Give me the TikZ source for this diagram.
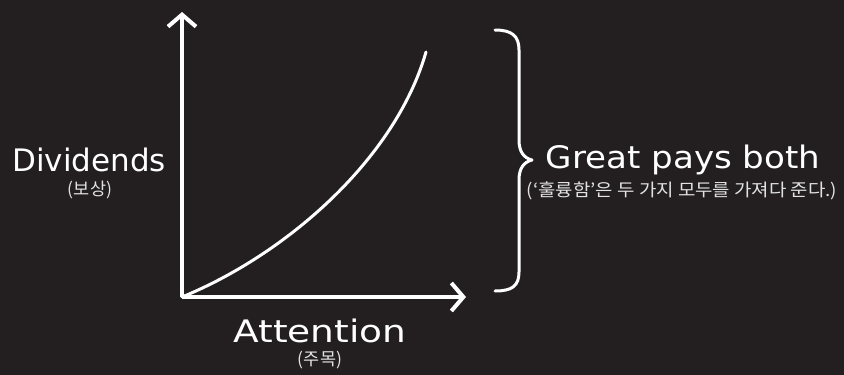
\documentclass[tikz,border=0pt]{standalone}
\usepackage{fontspec}
\setmainfont{DejaVu Sans}
\newfontfamily\kr{Noto Sans CJK KR}
\usetikzlibrary{arrows.meta}
\definecolor{bg}{HTML}{231F20}
\definecolor{krgray}{HTML}{E2E2E2}
\begin{document}
\begin{tikzpicture}[x=1pt,y=-1pt,
  axis/.style={draw=white,line width=4pt,-{Straight Barb[length=12pt,width=28pt,line width=4pt]}},
  hand/.style={text=white,inner sep=0pt,font=\fontsize{31}{36}\selectfont},
  sub/.style={text=krgray,inner sep=0pt,font=\kr\fontsize{17.5}{21}\selectfont}]
\fill[bg] (0,0) rectangle (844,375);
\useasboundingbox (0,0) rectangle (844,375);
\coordinate (o) at (182,297);
\coordinate (ytop) at (182,12);
\coordinate (xend) at (466,297);
\coordinate (cend) at (426,52);
\draw[axis] (o) -- (ytop);
\draw[axis] (o) -- (xend);
\draw[white,line width=3pt,line cap=round] (o) .. controls (285,255) and (395,160) .. (cend);
\coordinate (b1) at (495,30);
\coordinate (b2) at (495,291);
\draw[white,line width=3pt,line cap=round,line join=round]
  (b1) .. controls (512,30) and (519,36) .. (519,50)
  -- (519,140) .. controls (519,152) and (524,158) .. (532,160)
  .. controls (524,162) and (519,168) .. (519,180)
  -- (519,272) .. controls (519,286) and (512,291) .. (b2);
\node[hand] (div) at (89,160) {Dividends};
\node[sub] (divk) at (90,190) {(보상)};
\node[hand] (att) at (320,331) {\scalebox{1.21}[1]{Attention}};
\node[sub] (attk) at (320,360) {(주목)};
\node[hand] (great) at (683,160) {\scalebox{1.1}[1]{Great pays both}};
\node[sub] (greatk) at (682,191) {\scalebox{1.08}[1]{(‘훌륭함’은 두 가지 모두를 가져다 준다.)}};
\end{tikzpicture}
\end{document}
